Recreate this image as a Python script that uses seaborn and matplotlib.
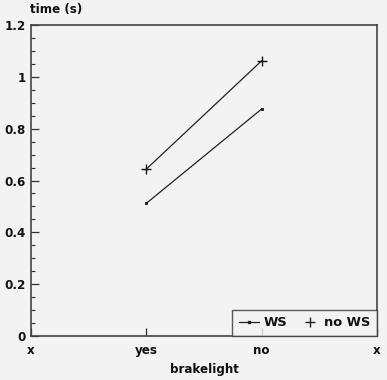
import matplotlib
matplotlib.use("Agg")
import matplotlib.pyplot as plt
import seaborn as sns
import pandas as pd
from matplotlib.ticker import MultipleLocator
from matplotlib.lines import Line2D

categories = ["x", "yes", "no", "x"]
conditions = ["yes", "no"]
ws_values = [0.512, 0.876]
nows_values = [0.644, 1.062]
y_ticks = [0, 0.2, 0.4, 0.6, 0.8, 1, 1.2]
y_tick_labels = ["0", "0.2", "0.4", "0.6", "0.8", "1", "1.2"]

sns.set_theme(style="white")
plt.rcParams["font.family"] = ["DejaVu Sans"]
plt.rcParams["font.weight"] = "bold"
plt.rcParams["text.color"] = "#111111"
plt.rcParams["xtick.labelcolor"] = "#111111"
plt.rcParams["ytick.labelcolor"] = "#111111"

pos = {"yes": 1, "no": 2}
df_ws = pd.DataFrame({"pos": [pos[c] for c in conditions], "time": ws_values})
df_nows = pd.DataFrame({"pos": [pos[c] for c in conditions], "time": nows_values})

bg = "#f3f3f3"
ink = "#222222"
fs = 8.6
fig = plt.figure(figsize=(3.87, 3.80), dpi=100, facecolor=bg)
ax = fig.add_axes([31 / 387, 1 - 336 / 380, 346 / 387, 311 / 380])
ax.set_facecolor(bg)

sns.lineplot(data=df_ws, x="pos", y="time", color=ink, marker="s",
             markersize=2.0, markeredgewidth=0.6, markeredgecolor="#111111",
             linewidth=0.9, ax=ax, legend=False)
sns.lineplot(data=df_nows, x="pos", y="time", color=ink, marker="+",
             markersize=7, markeredgewidth=1.0, markeredgecolor="#111111",
             linewidth=0.9, ax=ax, legend=False)

ax.set_xlim(0, 3)
ax.set_ylim(0, 1.2)
ax.set_xticks(range(len(categories)))
ax.set_xticklabels(categories, fontsize=fs, fontweight="bold")
ax.set_yticks(y_ticks)
ax.set_yticklabels(y_tick_labels, fontsize=fs, fontweight="bold")
ax.yaxis.set_minor_locator(MultipleLocator(0.05))
ax.tick_params(axis="y", which="major", direction="in", length=6, width=0.9,
               left=True, color="#333333", pad=4)
ax.tick_params(axis="y", which="minor", direction="in", length=3, width=0.8,
               left=True, color="#333333")
ax.tick_params(axis="x", which="major", direction="in", length=6, width=0.9,
               bottom=True, color="#333333", pad=6)
ax.set_xlabel("")
ax.set_ylabel("")
fig.text(204 / 387, 1 - 370 / 380, "brakelight", fontsize=fs, fontweight="bold",
         ha="center", va="center")
fig.text(30 / 387, 1 - 9 / 380, "time (s)", fontsize=fs, fontweight="bold",
         ha="left", va="center")

for s in ax.spines.values():
    s.set_color("#444444")
    s.set_linewidth(1.2)

handles = [Line2D([], [], color=ink, marker="s", markersize=2.0, lw=0.9),
           Line2D([], [], color=ink, marker="+", markersize=7, lw=0, markeredgewidth=1.0)]
leg = ax.legend(handles, ["WS", "no WS"], ncol=2, loc="lower right",
                bbox_to_anchor=(1, 0), borderaxespad=0, frameon=True,
                fancybox=False, edgecolor="#333333", facecolor=bg,
                prop={"size": fs + 0.8, "weight": "bold"}, handlelength=1.5,
                handletextpad=0.35, columnspacing=1.0, borderpad=0.5)
leg.get_frame().set_linewidth(1.0)

fig.savefig("out.png", dpi=100, facecolor=bg)
